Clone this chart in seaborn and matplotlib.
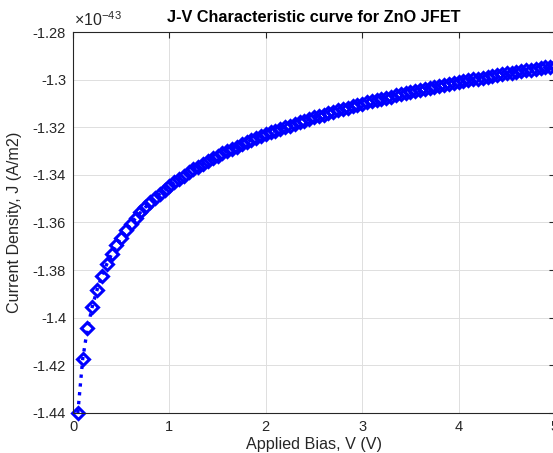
import matplotlib
matplotlib.use("Agg")
import pandas as pd
import matplotlib.pyplot as plt
from matplotlib.ticker import FuncFormatter, MultipleLocator
import seaborn as sns

# ------------------------------------------ DATA ------------------------------------------------#
# Applied bias (V)
voltage = [0.05, 0.10, 0.15, 0.20, 0.25, 0.30, 0.35, 0.40, 0.45, 0.50,
           0.55, 0.60, 0.65, 0.70, 0.75, 0.80, 0.85, 0.90, 0.95, 1.00,
           1.05, 1.10, 1.15, 1.20, 1.25, 1.30, 1.35, 1.40, 1.45, 1.50,
           1.55, 1.60, 1.65, 1.70, 1.75, 1.80, 1.85, 1.90, 1.95, 2.00,
           2.05, 2.10, 2.15, 2.20, 2.25, 2.30, 2.35, 2.40, 2.45, 2.50,
           2.55, 2.60, 2.65, 2.70, 2.75, 2.80, 2.85, 2.90, 2.95, 3.00,
           3.05, 3.10, 3.15, 3.20, 3.25, 3.30, 3.35, 3.40, 3.45, 3.50,
           3.55, 3.60, 3.65, 3.70, 3.75, 3.80, 3.85, 3.90, 3.95, 4.00,
           4.05, 4.10, 4.15, 4.20, 4.25, 4.30, 4.35, 4.40, 4.45, 4.50,
           4.55, 4.60, 4.65, 4.70, 4.75, 4.80, 4.85, 4.90, 4.95, 5.00]

# Current density, in units of 1e-43 A/m2
current_density = [-1.4400, -1.4175, -1.4045, -1.3953, -1.3882, -1.3824, -1.3775, -1.3733, -1.3696, -1.3663,
                   -1.3633, -1.3606, -1.3581, -1.3558, -1.3536, -1.3516, -1.3497, -1.3479, -1.3462, -1.3446,
                   -1.3431, -1.3417, -1.3403, -1.3390, -1.3377, -1.3365, -1.3353, -1.3342, -1.3331, -1.3320,
                   -1.3310, -1.3300, -1.3291, -1.3281, -1.3272, -1.3263, -1.3255, -1.3246, -1.3238, -1.3230,
                   -1.3222, -1.3215, -1.3207, -1.3200, -1.3193, -1.3186, -1.3179, -1.3172, -1.3166, -1.3159,
                   -1.3153, -1.3147, -1.3141, -1.3135, -1.3129, -1.3123, -1.3118, -1.3112, -1.3107, -1.3101,
                   -1.3096, -1.3091, -1.3086, -1.3081, -1.3076, -1.3071, -1.3066, -1.3062, -1.3057, -1.3053,
                   -1.3048, -1.3044, -1.3039, -1.3035, -1.3031, -1.3027, -1.3023, -1.3019, -1.3015, -1.3011,
                   -1.3007, -1.3003, -1.2999, -1.2996, -1.2992, -1.2988, -1.2985, -1.2981, -1.2978, -1.2974,
                   -1.2971, -1.2967, -1.2964, -1.2961, -1.2958, -1.2954, -1.2951, -1.2948, -1.2945, -1.2942]

x_ticks_step = 1
y_ticks_step = 0.02

# ------------------------------------------ PLOT ------------------------------------------------#
df = pd.DataFrame({"V": voltage, "J": current_density})

sns.set_style("white")
plt.rcParams["font.family"] = ["Liberation Sans", "DejaVu Sans"]
plt.rcParams["mathtext.fontset"] = "custom"
plt.rcParams["mathtext.rm"] = "Liberation Sans"

dark = "#262626"

fig = plt.figure(figsize=(5.53, 4.53), dpi=100)
ax = fig.add_axes([73 / 553, 1 - 413 / 453, (555 - 73) / 553, (413 - 32) / 453])

sns.lineplot(data=df, x="V", y="J", ax=ax, estimator=None, sort=False,
             color="blue", linestyle=":", linewidth=2.4,
             marker="D", markersize=6.5, markeredgewidth=2.2,
             markerfacecolor="none", markeredgecolor="blue", clip_on=False)

ax.set_xlim(0, 5)
ax.set_ylim(-1.44, -1.28)
ax.xaxis.set_major_locator(MultipleLocator(x_ticks_step))
ax.yaxis.set_major_locator(MultipleLocator(y_ticks_step))
ax.xaxis.set_major_formatter(FuncFormatter(lambda v, p: f"{round(v, 2):g}"))
ax.yaxis.set_major_formatter(FuncFormatter(lambda v, p: f"{round(v, 2):g}".replace("\u2212", "-")))

ax.grid(True, color="#dedede", linewidth=0.7)
ax.set_axisbelow(True)
for s in ax.spines.values():
    s.set_color(dark)
    s.set_linewidth(0.8)
ax.tick_params(direction="in", length=4, width=0.8, colors=dark, labelsize=10.5,
               top=True, right=True, pad=5)

ax.set_title("J-V Characteristic curve for ZnO JFET", fontsize=11.7, fontweight="bold",
             color="black", pad=7)
ax.set_xlabel("Applied Bias, V (V)", fontsize=11.6, color=dark, labelpad=2)
ax.set_ylabel("Current Density, J (A/m2)", fontsize=11.6, color=dark, labelpad=8)

ax.text(0.003, 1.008, r"$\times\mathrm{10^{-43}}$", transform=ax.transAxes,
        ha="left", va="bottom", fontsize=11.5, color=dark)

fig.savefig("out.png", dpi=100)
plt.close(fig)
